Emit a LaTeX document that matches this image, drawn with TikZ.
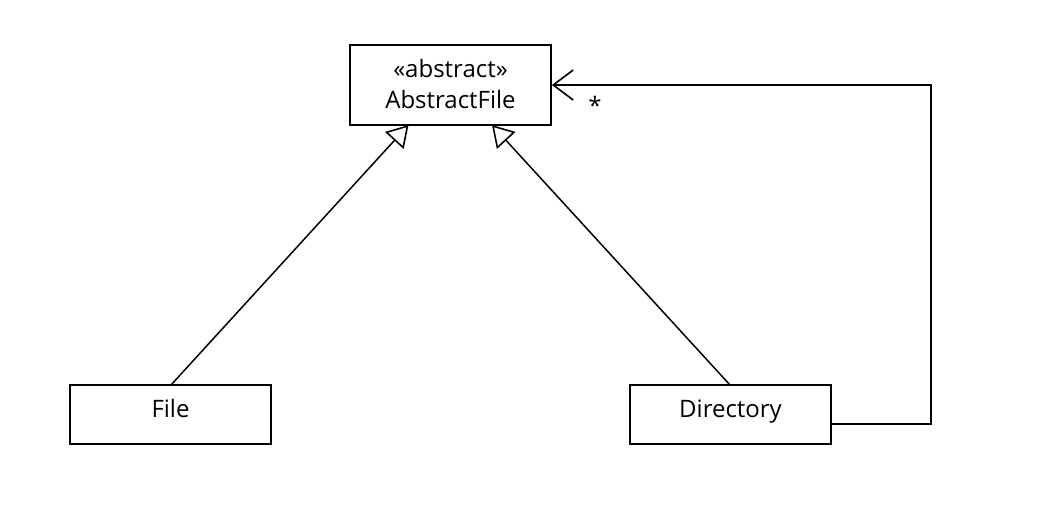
\documentclass[tikz,border=0pt]{standalone}
\usepackage{fontspec}
\setmainfont{Open Sans}
\usetikzlibrary{arrows.meta}
\begin{document}
\begin{tikzpicture}[x=1pt,y=-1pt,
  cls/.style={draw, line width=1.8pt, minimum width=201pt, inner sep=0pt},
  lbl/.style={font=\fontsize{24}{31}\selectfont, inner sep=0pt, anchor=base},
  inherit/.style={line width=1.5pt, -{Triangle[open, length=21pt, width=25pt, line width=1.6pt]}},
  assoc/.style={line width=1.5pt, -{Straight Barb[length=20pt, width=30pt, line width=1.6pt]}}]
\useasboundingbox (0,0) rectangle (1042,506);
\node[cls, minimum height=80pt] (af) at (450.5,85) {};
\node[lbl] (aft1) at (450.5,77) {«abstract»};
\node[lbl] (aft2) at (450.5,108) {AbstractFile};
\node[cls, minimum height=59pt] (file) at (170.5,414.5) {};
\node[lbl] (filet) at (170.5,417) {File};
\node[cls, minimum height=59pt] (dir) at (730.5,414.5) {};
\node[lbl] (dirt) at (730.5,417) {Directory};
\coordinate (c1) at (931,424);
\coordinate (c2) at (931,85);
\draw[inherit] (171,385) -- (408.5,125);
\draw[inherit] (730,385) -- (492,125);
\draw[assoc] (dir.east |- c1) -- (c1) -- (c2) -- (af.east);
\node[lbl] (star) at (595,114) {*};
\end{tikzpicture}
\end{document}
